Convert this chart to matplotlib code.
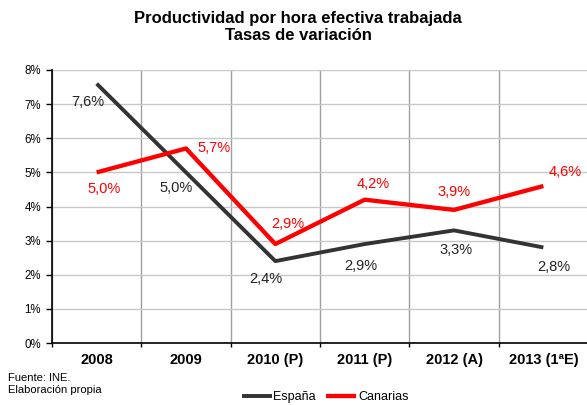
import numpy as np
import matplotlib
matplotlib.use("Agg")
import matplotlib.pyplot as plt
from matplotlib.ticker import FixedLocator, PercentFormatter

plt.rcParams["font.family"] = ["Liberation Sans", "DejaVu Sans"]

# ── Data ───────────────────────────────────
years = ["2008", "2009", "2010 (P)", "2011 (P)", "2012 (A)", "2013 (1ªE)"]
espana = [7.6, 5.0, 2.4, 2.9, 3.3, 2.8]
canarias = [5.0, 5.7, 2.9, 4.2, 3.9, 4.6]

# label offsets in pixels (dx, dy)
esp_off = [(-9, -18), (-10, -16), (-10, -18), (-4, -22), (2, -20), (10, -20)]
can_off = [(7, -17), (28, 0), (12, 20), (9, 16), (0, 18), (22, 14)]

ESP_COLOR = "#333333"
CAN_COLOR = "#ff0000"

fig = plt.figure(figsize=(5.87, 4.05), dpi=100)
ax = fig.add_axes([52 / 587, 62 / 405, 536 / 587, 273 / 405])

x = np.arange(len(years))
ax.plot(x, espana, color=ESP_COLOR, lw=2.8, solid_capstyle="butt", label="España", zorder=3)
ax.plot(x, canarias, color=CAN_COLOR, lw=3.1, solid_capstyle="butt", label="Canarias", zorder=4)

for xi, v, (dx, dy) in zip(x, espana, esp_off):
    ax.annotate(f"{v:.1f}%".replace(".", ","), (xi, v), xytext=(dx, dy),
                textcoords="offset pixels", ha="center", va="center",
                fontsize=10.5, color="#222222", zorder=5)
for xi, v, (dx, dy) in zip(x, canarias, can_off):
    ax.annotate(f"{v:.1f}%".replace(".", ","), (xi, v), xytext=(dx, dy),
                textcoords="offset pixels", ha="center", va="center",
                fontsize=10.5, color=CAN_COLOR, zorder=5)

# ── Axes styling ───────────────────────────
ax.set_xlim(-0.5, len(years) - 0.5)
ax.set_ylim(0, 8)
ax.yaxis.set_major_locator(FixedLocator(np.arange(0, 9)))
ax.yaxis.set_major_formatter(PercentFormatter(decimals=0))
ax.tick_params(axis="y", labelsize=8.3, length=4, width=1, direction="out", pad=4)

ax.xaxis.set_major_locator(FixedLocator(np.arange(len(years) + 1) - 0.5))
ax.xaxis.set_minor_locator(FixedLocator(x))
ax.set_xticklabels([""] * (len(years) + 1))
ax.set_xticklabels(years, minor=True, fontweight="bold", fontsize=10.5)
ax.tick_params(axis="x", which="major", length=3, width=1, direction="out")
ax.tick_params(axis="x", which="minor", length=0, pad=7)

ax.grid(axis="y", color="#c8c8c8", lw=1)
ax.grid(axis="x", which="major", color="#a0a0a0", lw=1)
ax.set_axisbelow(True)
for s in ["top", "right"]:
    ax.spines[s].set_visible(False)
ax.spines["left"].set_linewidth(1.2)
ax.spines["bottom"].set_linewidth(1.2)

# ── Titles & notes ─────────────────────────
fig.text(298 / 587, 1 - 18.5 / 405, "Productividad por hora efectiva trabajada",
         ha="center", va="center", fontsize=12, fontweight="bold")
fig.text(298 / 587, 1 - 36 / 405, "Tasas de variación",
         ha="center", va="center", fontsize=12, fontweight="bold")
fig.text(8 / 587, 1 - 378 / 405, "Fuente: INE.", fontsize=8, va="center")
fig.text(8 / 587, 1 - 390 / 405, "Elaboración propia", fontsize=8, va="center")

fig.legend(loc="center", bbox_to_anchor=(325 / 587, 1 - 397 / 405), ncol=2,
           frameon=False, fontsize=9, handlelength=2.4, handletextpad=0.15,
           columnspacing=0.8)

plt.savefig("out.png", dpi=100)
